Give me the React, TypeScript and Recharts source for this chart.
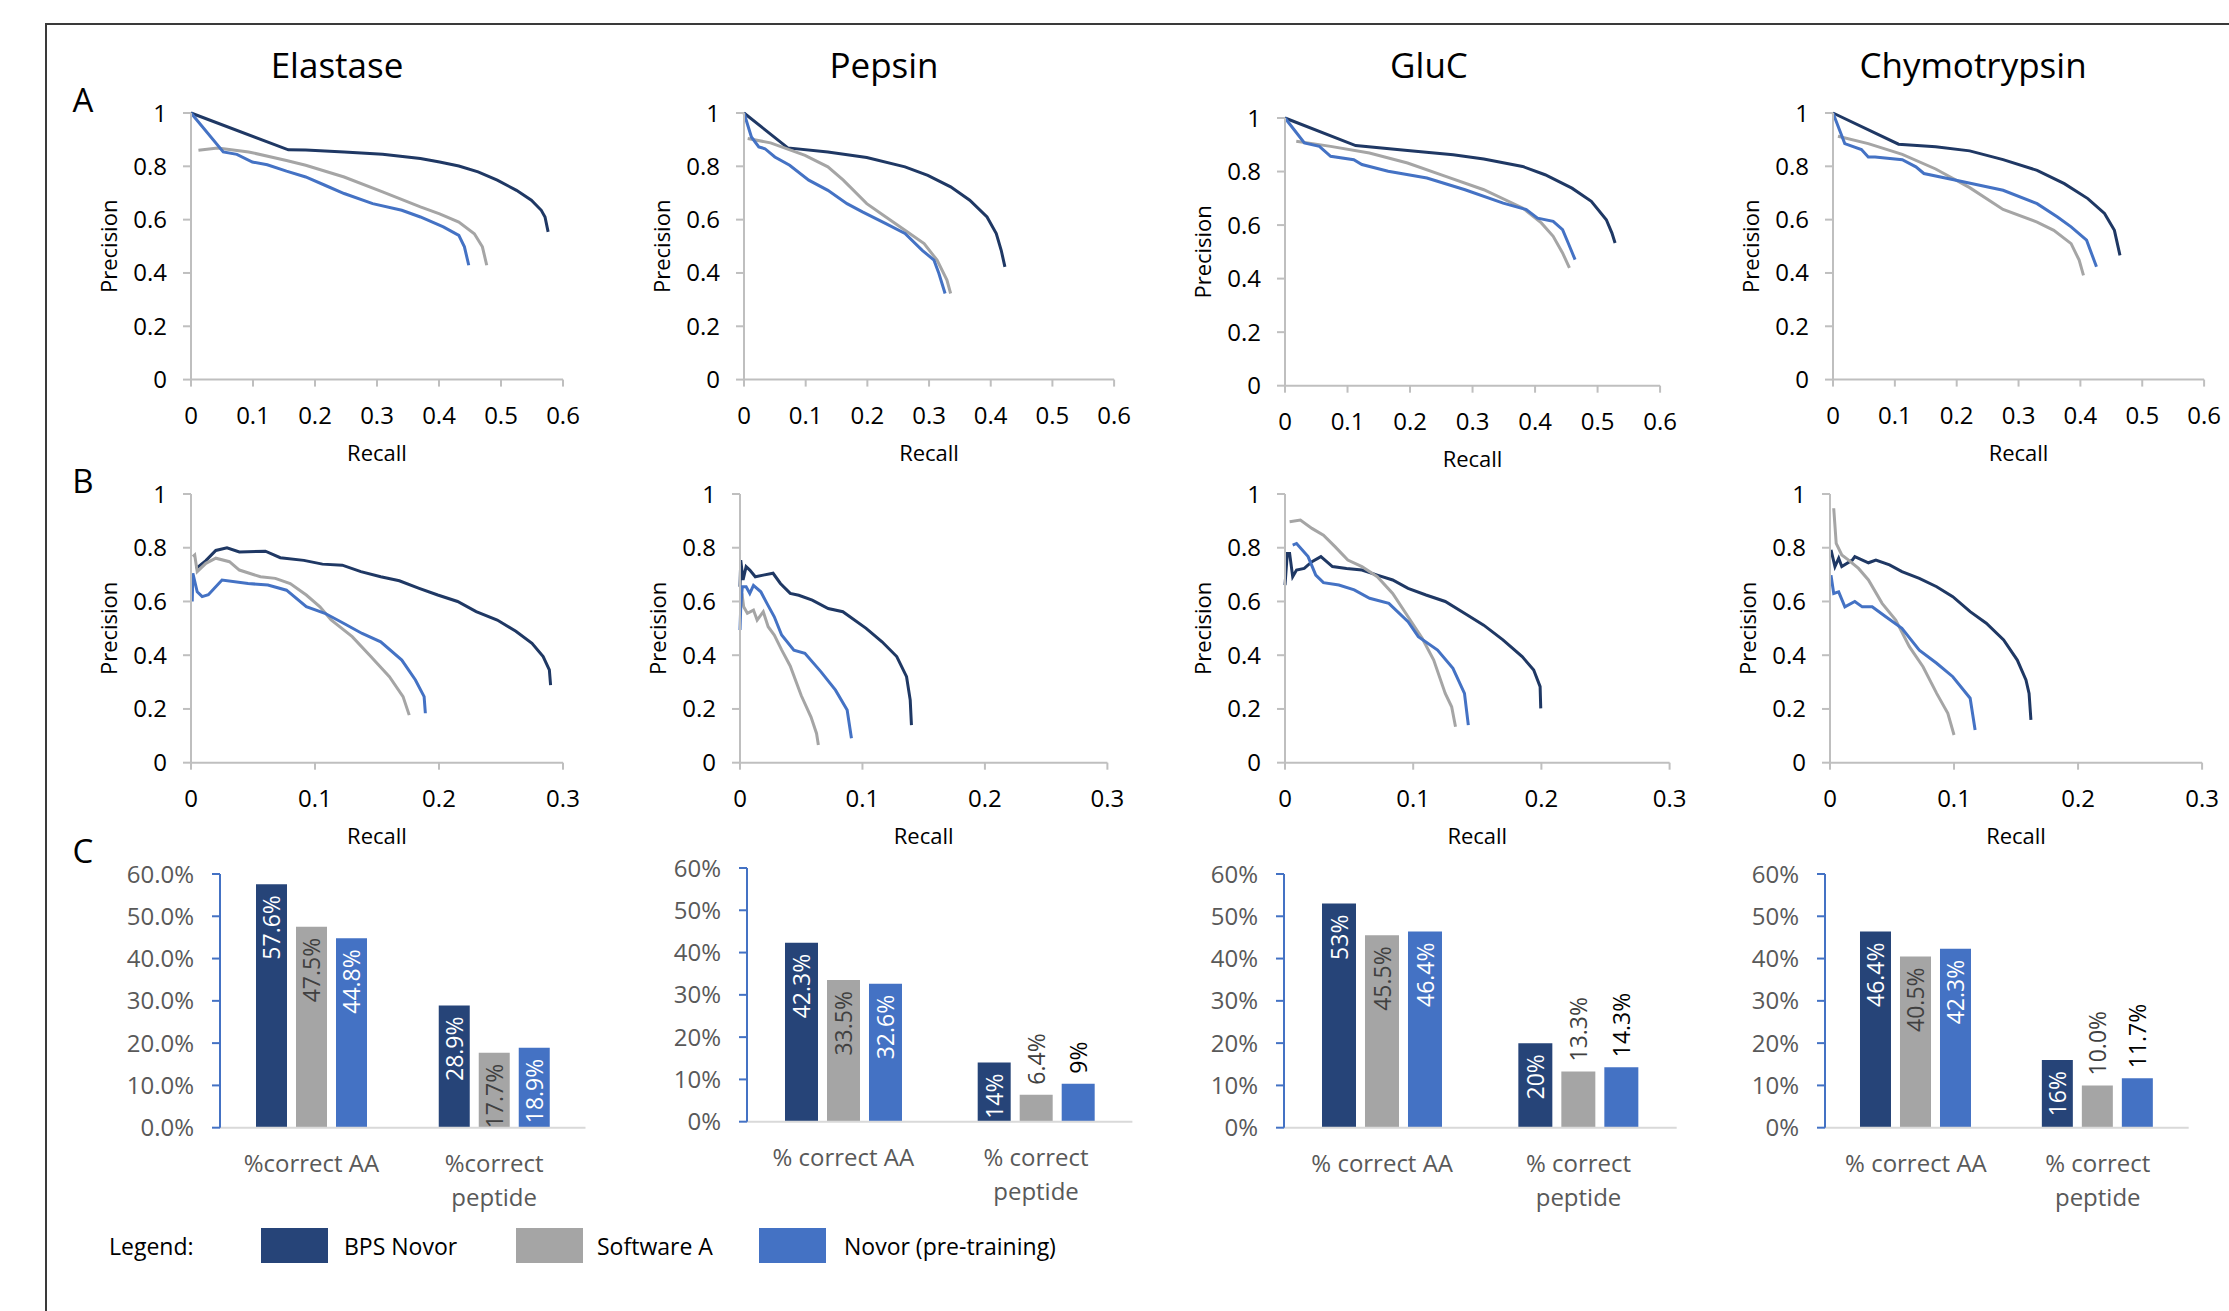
import React from 'react';
import { LineChart, Line, XAxis, YAxis, BarChart, Bar, LabelList } from 'recharts';

const FONT = "'Open Sans', 'Noto Sans', Arial, sans-serif";
const NAVY_LINE = '#1F3864';
const NAVY_BAR = '#264478';
const GRAY = '#A5A5A5';
const BLUE = '#4472C4';
const AXIS_GRAY = '#BFBFBF';

type Pt = [number, number];

// ---- panel names / legend ----
const enzymes = ['Elastase', 'Pepsin', 'GluC', 'Chymotrypsin'];
const seriesNames = ['BPS Novor', 'Software A', 'Novor (pre-training)'];

// ---- axis ticks ----
const xTicksA = [0, 0.1, 0.2, 0.3, 0.4, 0.5, 0.6];
const xTicksB = [0, 0.1, 0.2, 0.3];
const yTicksPR = [0, 0.2, 0.4, 0.6, 0.8, 1];
const pctTicks = [0, 10, 20, 30, 40, 50, 60];
const pctTickLabelsFixed = ['0.0%', '10.0%', '20.0%', '30.0%', '40.0%', '50.0%', '60.0%'];
const pctTickLabels = ['0%', '10%', '20%', '30%', '40%', '50%', '60%'];

// ---- A: precision / recall, [recall, precision] ----
const elastaseA_bps: Pt[] = [[0, 1], [0.157, 0.862], [0.185, 0.861], [0.247, 0.854], [0.309, 0.845], [0.37, 0.829], [0.401, 0.816], [0.432, 0.801], [0.463, 0.779], [0.494, 0.748], [0.525, 0.71], [0.549, 0.673], [0.565, 0.635], [0.571, 0.61], [0.576, 0.554]];
const elastaseA_softA: Pt[] = [[0.012, 0.86], [0.043, 0.869], [0.093, 0.854], [0.154, 0.822], [0.185, 0.804], [0.247, 0.76], [0.309, 0.704], [0.37, 0.648], [0.401, 0.622], [0.432, 0.591], [0.457, 0.547], [0.47, 0.498], [0.477, 0.429]];
const elastaseA_novor: Pt[] = [[0, 1], [0.052, 0.854], [0.074, 0.845], [0.099, 0.816], [0.123, 0.806], [0.154, 0.782], [0.185, 0.76], [0.216, 0.729], [0.247, 0.698], [0.293, 0.66], [0.34, 0.635], [0.37, 0.61], [0.407, 0.573], [0.432, 0.541], [0.441, 0.498], [0.448, 0.429]];

const pepsinA_bps: Pt[] = [[0, 1], [0.071, 0.869], [0.136, 0.854], [0.199, 0.833], [0.261, 0.798], [0.298, 0.766], [0.335, 0.723], [0.366, 0.673], [0.394, 0.61], [0.409, 0.548], [0.417, 0.485], [0.423, 0.423]];
const pepsinA_softA: Pt[] = [[0.006, 0.904], [0.043, 0.888], [0.099, 0.841], [0.136, 0.798], [0.161, 0.748], [0.199, 0.66], [0.23, 0.61], [0.261, 0.56], [0.292, 0.51], [0.313, 0.448], [0.329, 0.373], [0.335, 0.323]];
const pepsinA_novor: Pt[] = [[0, 1], [0.012, 0.91], [0.024, 0.873], [0.034, 0.866], [0.05, 0.835], [0.074, 0.804], [0.105, 0.748], [0.136, 0.71], [0.167, 0.66], [0.192, 0.629], [0.23, 0.585], [0.261, 0.548], [0.289, 0.485], [0.308, 0.448], [0.316, 0.398], [0.326, 0.323]];

const gluCA_bps: Pt[] = [[0, 1], [0.113, 0.897], [0.196, 0.879], [0.269, 0.863], [0.318, 0.847], [0.38, 0.819], [0.416, 0.788], [0.459, 0.738], [0.49, 0.689], [0.514, 0.62], [0.523, 0.57], [0.528, 0.533]];
const gluCA_softA: Pt[] = [[0.018, 0.913], [0.073, 0.894], [0.135, 0.869], [0.196, 0.832], [0.257, 0.782], [0.318, 0.732], [0.38, 0.664], [0.41, 0.608], [0.429, 0.558], [0.444, 0.496], [0.455, 0.44]];
const gluCA_novor: Pt[] = [[0, 1], [0.031, 0.907], [0.055, 0.894], [0.073, 0.857], [0.11, 0.844], [0.123, 0.826], [0.165, 0.801], [0.227, 0.776], [0.288, 0.732], [0.349, 0.682], [0.386, 0.658], [0.404, 0.626], [0.429, 0.614], [0.444, 0.583], [0.453, 0.533], [0.464, 0.471]];

const chymoA_bps: Pt[] = [[0, 1], [0.106, 0.883], [0.166, 0.873], [0.221, 0.858], [0.275, 0.825], [0.33, 0.785], [0.374, 0.735], [0.412, 0.679], [0.439, 0.623], [0.455, 0.56], [0.464, 0.466]];
const chymoA_softA: Pt[] = [[0.008, 0.913], [0.057, 0.885], [0.112, 0.845], [0.166, 0.79], [0.221, 0.72], [0.275, 0.638], [0.33, 0.591], [0.357, 0.56], [0.385, 0.51], [0.398, 0.448], [0.405, 0.391]];
const chymoA_novor: Pt[] = [[0, 1], [0.019, 0.885], [0.046, 0.863], [0.057, 0.835], [0.068, 0.835], [0.112, 0.825], [0.134, 0.798], [0.147, 0.773], [0.199, 0.748], [0.275, 0.71], [0.33, 0.66], [0.363, 0.61], [0.385, 0.573], [0.41, 0.523], [0.418, 0.473], [0.426, 0.423]];

// ---- B: precision / recall ----
const elastaseB_bps: Pt[] = [[0.004, 0.722], [0.012, 0.752], [0.02, 0.79], [0.029, 0.8], [0.039, 0.784], [0.06, 0.787], [0.072, 0.763], [0.091, 0.753], [0.106, 0.739], [0.122, 0.735], [0.137, 0.711], [0.153, 0.692], [0.168, 0.677], [0.184, 0.649], [0.199, 0.624], [0.215, 0.6], [0.23, 0.562], [0.247, 0.531], [0.262, 0.489], [0.275, 0.444], [0.284, 0.395], [0.289, 0.345], [0.29, 0.289]];
const elastaseB_softA: Pt[] = [[0.0015, 0.767], [0.003, 0.773], [0.005, 0.711], [0.012, 0.742], [0.02, 0.761], [0.031, 0.748], [0.039, 0.717], [0.056, 0.692], [0.068, 0.686], [0.08, 0.667], [0.093, 0.624], [0.104, 0.58], [0.113, 0.531], [0.13, 0.469], [0.145, 0.395], [0.16, 0.32], [0.171, 0.246], [0.176, 0.177]];
const elastaseB_novor: Pt[] = [[0.001, 0.6], [0.0015, 0.705], [0.005, 0.636], [0.009, 0.618], [0.014, 0.625], [0.025, 0.68], [0.046, 0.667], [0.062, 0.661], [0.077, 0.642], [0.093, 0.581], [0.108, 0.556], [0.123, 0.519], [0.138, 0.481], [0.153, 0.45], [0.17, 0.382], [0.181, 0.308], [0.188, 0.246], [0.189, 0.184]];

const pepsinB_bps: Pt[] = [[0, 0.655], [0.0006, 0.754], [0.0025, 0.68], [0.005, 0.73], [0.008, 0.717], [0.0125, 0.692], [0.019, 0.698], [0.027, 0.705], [0.033, 0.667], [0.041, 0.63], [0.048, 0.623], [0.059, 0.605], [0.072, 0.574], [0.084, 0.562], [0.103, 0.5], [0.116, 0.45], [0.128, 0.395], [0.136, 0.32], [0.139, 0.233], [0.14, 0.14]];
const pepsinB_softA: Pt[] = [[0.0016, 0.63], [0.003, 0.58], [0.006, 0.556], [0.011, 0.568], [0.014, 0.531], [0.019, 0.562], [0.023, 0.506], [0.028, 0.475], [0.034, 0.42], [0.041, 0.36], [0.05, 0.25], [0.058, 0.17], [0.0625, 0.109], [0.064, 0.066]];
const pepsinB_novor: Pt[] = [[0, 0.494], [0.0006, 0.58], [0.0019, 0.655], [0.005, 0.655], [0.008, 0.63], [0.011, 0.66], [0.017, 0.636], [0.022, 0.593], [0.028, 0.543], [0.034, 0.475], [0.044, 0.419], [0.053, 0.407], [0.066, 0.339], [0.078, 0.27], [0.0875, 0.196], [0.091, 0.091]];

const gluCB_bps: Pt[] = [[0, 0.661], [0.0018, 0.779], [0.0036, 0.779], [0.006, 0.692], [0.009, 0.717], [0.015, 0.723], [0.021, 0.748], [0.028, 0.767], [0.037, 0.73], [0.048, 0.723], [0.06, 0.717], [0.072, 0.698], [0.084, 0.68], [0.096, 0.649], [0.11, 0.624], [0.125, 0.6], [0.14, 0.556], [0.155, 0.512], [0.17, 0.457], [0.185, 0.395], [0.194, 0.345], [0.199, 0.283], [0.1995, 0.202]];
const gluCB_softA: Pt[] = [[0.0036, 0.897], [0.012, 0.903], [0.021, 0.872], [0.03, 0.847], [0.039, 0.804], [0.049, 0.754], [0.06, 0.73], [0.072, 0.692], [0.084, 0.63], [0.096, 0.543], [0.107, 0.463], [0.116, 0.382], [0.125, 0.258], [0.13, 0.208], [0.133, 0.134]];
const gluCB_novor: Pt[] = [[0.006, 0.81], [0.009, 0.816], [0.018, 0.767], [0.024, 0.698], [0.03, 0.67], [0.042, 0.661], [0.054, 0.643], [0.066, 0.612], [0.081, 0.593], [0.096, 0.525], [0.104, 0.469], [0.119, 0.419], [0.131, 0.351], [0.14, 0.258], [0.143, 0.14]];

const chymoB_bps: Pt[] = [[0.0008, 0.792], [0.004, 0.73], [0.007, 0.761], [0.0095, 0.73], [0.018, 0.754], [0.02, 0.767], [0.031, 0.744], [0.037, 0.754], [0.048, 0.736], [0.058, 0.711], [0.072, 0.686], [0.086, 0.655], [0.099, 0.618], [0.113, 0.562], [0.126, 0.519], [0.14, 0.457], [0.151, 0.382], [0.158, 0.308], [0.1605, 0.258], [0.162, 0.159]];
const chymoB_softA: Pt[] = [[0.003, 0.947], [0.005, 0.816], [0.0095, 0.773], [0.015, 0.754], [0.023, 0.723], [0.031, 0.68], [0.042, 0.593], [0.053, 0.531], [0.064, 0.432], [0.075, 0.357], [0.086, 0.258], [0.095, 0.184], [0.1, 0.103]];
const chymoB_novor: Pt[] = [[0.0008, 0.698], [0.003, 0.63], [0.007, 0.636], [0.012, 0.58], [0.02, 0.6], [0.026, 0.58], [0.034, 0.58], [0.045, 0.543], [0.058, 0.5], [0.072, 0.419], [0.086, 0.37], [0.099, 0.32], [0.113, 0.24], [0.117, 0.122]];

// ---- C: accuracy bars (%) ----
const categoriesElastase = ['%correct AA', '%correct peptide'];
const categoriesOther = ['% correct AA', '% correct peptide'];

const elastaseBps = [57.6, 28.9];
const elastaseSoftA = [47.5, 17.7];
const elastaseNovor = [44.8, 18.9];
const elastaseLabels = [['57.6%', '28.9%'], ['47.5%', '17.7%'], ['44.8%', '18.9%']];

const pepsinBps = [42.3, 14];
const pepsinSoftA = [33.5, 6.4];
const pepsinNovor = [32.6, 9];
const pepsinLabels = [['42.3%', '14%'], ['33.5%', '6.4%'], ['32.6%', '9%']];

const gluCBps = [53, 20];
const gluCSoftA = [45.5, 13.3];
const gluCNovor = [46.4, 14.3];
const gluCLabels = [['53%', '20%'], ['45.5%', '13.3%'], ['46.4%', '14.3%']];

const chymoBps = [46.4, 16];
const chymoSoftA = [40.5, 10.0];
const chymoNovor = [42.3, 11.7];
const chymoLabels = [['46.4%', '16%'], ['40.5%', '10.0%'], ['42.3%', '11.7%']];

// ---- layout (page px): plot rects [left, top, right, bottom] ----
const TITLE_X = [337, 884, 1429, 1973];
const RECT_A = [[191.3, 112.7, 563.3, 379.3], [743.7, 112.7, 1113.8, 379.3], [1285.4, 118.3, 1660.5, 386], [1833.3, 112.7, 2204.4, 379.3]];
const RECT_B = [[191.3, 494, 563.3, 762.7], [739.9, 494, 1107.3, 762.7], [1285.4, 494, 1670, 762.7], [1829.9, 494, 2202, 762.7]];
const RECT_C = [[220, 874, 585.5, 1127.7], [746.6, 868, 1132, 1121.7], [1284, 874, 1676.7, 1127.7], [1824.8, 874, 2188.5, 1127.7]];
const BAR_SIZE = [31, 33, 34, 31];

const toRows = (pts: Pt[]) => pts.map(([x, y]) => ({ x, y }));

function PRChart({ rect, xTicks, series }: { rect: number[]; xTicks: number[]; series: Pt[][] }) {
  const [l, t, r, b] = rect;
  const padL = 164, padT = 20, padR = 30, padB = 148;
  const colors = [NAVY_LINE, GRAY, BLUE];
  return (
    <div style={{ position: 'absolute', left: l - padL, top: t - padT }}>
      <LineChart width={r - l + padL + padR} height={b - t + padT + padB} margin={{ top: padT, right: padR, bottom: 0, left: 0 }}>
        <XAxis
          type="number"
          dataKey="x"
          domain={[0, xTicks[xTicks.length - 1]]}
          ticks={xTicks}
          interval={0}
          height={padB}
          axisLine={{ stroke: AXIS_GRAY, strokeWidth: 2 }}
          tickLine={{ stroke: AXIS_GRAY, strokeWidth: 2 }}
          tickSize={7}
          tickMargin={20}
          tick={{ fill: '#000', fontSize: 24, fontFamily: FONT }}
          label={{ value: 'Recall', position: 'center', fill: '#000', fontSize: 22, fontFamily: FONT }}
        />
        <YAxis
          type="number"
          dataKey="y"
          domain={[0, 1]}
          ticks={yTicksPR}
          interval={0}
          width={padL}
          axisLine={{ stroke: AXIS_GRAY, strokeWidth: 2 }}
          tickLine={{ stroke: AXIS_GRAY, strokeWidth: 2 }}
          tickSize={8}
          tickMargin={16}
          tick={{ fill: '#000', fontSize: 24, fontFamily: FONT }}
          label={{ value: 'Precision', angle: -90, position: 'center', fill: '#000', fontSize: 22, fontFamily: FONT }}
        />
        {series.map((s, i) => (
          <Line
            key={seriesNames[i]}
            name={seriesNames[i]}
            data={toRows(s)}
            dataKey="y"
            type="linear"
            stroke={colors[i]}
            strokeWidth={3}
            dot={false}
            activeDot={false}
            isAnimationActive={false}
          />
        ))}
      </LineChart>
    </div>
  );
}

const CategoryTick = (props: any) => {
  const { x, y, payload } = props;
  const text: string = payload.value;
  const words = text.split(' ');
  const lines = text.length > 12 ? [words.slice(0, -1).join(' '), words[words.length - 1]] : [text];
  return (
    <text x={x} y={y} textAnchor="middle" fill="#595959" fontSize={24} fontFamily={FONT}>
      {lines.map((ln, i) => (
        <tspan key={i} x={x} dy={i === 0 ? 44 : 34}>{ln}</tspan>
      ))}
    </text>
  );
};

const makeBarLabel = (texts: string[], kind: number, outside: boolean[]) => (props: any) => {
  const x = Number(props.x), y = Number(props.y), width = Number(props.width);
  const idx = props.index;
  const cx = x + width / 2;
  const out = outside[idx];
  const color = kind === 1 ? '#404040' : out ? '#000' : '#fff';
  const ty = out ? y - 10 : y + 11;
  return (
    <text
      x={cx}
      y={ty}
      transform={`rotate(-90 ${cx} ${ty})`}
      textAnchor={out ? 'start' : 'end'}
      dominantBaseline="central"
      fill={color}
      fontSize={23}
      fontFamily={FONT}
    >
      {texts[idx]}
    </text>
  );
};

function AccuracyChart({ rect, categories, values, labels, tickLabels, barSize, peptideOutside }: {
  rect: number[]; categories: string[]; values: number[][]; labels: string[][]; tickLabels: string[]; barSize: number; peptideOutside: boolean;
}) {
  const [l, t, r, b] = rect;
  const padL = 120, padT = 30, padR = 20, padB = 110;
  const data = categories.map((c, i) => ({ category: c, bps: values[0][i], softA: values[1][i], novor: values[2][i] }));
  const keys = ['bps', 'softA', 'novor'];
  const fills = [NAVY_BAR, GRAY, BLUE];
  return (
    <div style={{ position: 'absolute', left: l - padL, top: t - padT }}>
      <BarChart
        width={r - l + padL + padR}
        height={b - t + padT + padB}
        data={data}
        margin={{ top: padT, right: padR, bottom: 0, left: 0 }}
        barGap={9}
        barCategoryGap={0}
      >
        <XAxis
          dataKey="category"
          height={padB}
          interval={0}
          axisLine={{ stroke: '#D9D9D9', strokeWidth: 2 }}
          tickLine={false}
          tickSize={0}
          tickMargin={0}
          tick={<CategoryTick />}
        />
        <YAxis
          type="number"
          domain={[0, 60]}
          ticks={pctTicks}
          interval={0}
          width={padL}
          axisLine={{ stroke: BLUE, strokeWidth: 2 }}
          tickLine={{ stroke: BLUE, strokeWidth: 2 }}
          tickSize={8}
          tickMargin={18}
          tick={{ fill: '#595959', fontSize: 24, fontFamily: FONT }}
          tickFormatter={(v: number) => tickLabels[pctTicks.indexOf(v)]}
        />
        {keys.map((k, i) => (
          <Bar key={k} dataKey={k} name={seriesNames[i]} fill={fills[i]} barSize={barSize} isAnimationActive={false}>
            <LabelList dataKey={k} content={makeBarLabel(labels[i], i, i === 0 ? [false, false] : [false, peptideOutside])} />
          </Bar>
        ))}
      </BarChart>
    </div>
  );
}

const lettersStyle: React.CSSProperties = { position: 'absolute', fontSize: 33, lineHeight: 1, transform: 'translate(-50%, -50%)', color: '#000' };

export default function App() {
  const seriesA = [
    [elastaseA_bps, elastaseA_softA, elastaseA_novor],
    [pepsinA_bps, pepsinA_softA, pepsinA_novor],
    [gluCA_bps, gluCA_softA, gluCA_novor],
    [chymoA_bps, chymoA_softA, chymoA_novor],
  ];
  const seriesB = [
    [elastaseB_bps, elastaseB_softA, elastaseB_novor],
    [pepsinB_bps, pepsinB_softA, pepsinB_novor],
    [gluCB_bps, gluCB_softA, gluCB_novor],
    [chymoB_bps, chymoB_softA, chymoB_novor],
  ];
  const barValues = [
    [elastaseBps, elastaseSoftA, elastaseNovor],
    [pepsinBps, pepsinSoftA, pepsinNovor],
    [gluCBps, gluCSoftA, gluCNovor],
    [chymoBps, chymoSoftA, chymoNovor],
  ];
  const barLabels = [elastaseLabels, pepsinLabels, gluCLabels, chymoLabels];
  const legendSwatch = [261, 516, 759];
  const legendText = [344, 597, 844];
  const legendFill = [NAVY_BAR, GRAY, BLUE];

  return (
    <div style={{ position: 'absolute', left: 0, top: 0, width: 2229, height: 1311, background: '#fff', overflow: 'hidden', fontFamily: FONT }}>
      <div style={{ position: 'absolute', left: 45, top: 23, width: 2300, height: 1400, borderLeft: '2.5px solid #3a3a3a', borderTop: '2.5px solid #3a3a3a' }} />

      {enzymes.map((name, i) => (
        <div key={name} style={{ position: 'absolute', left: TITLE_X[i], top: 64, transform: 'translate(-50%, -50%)', fontSize: 35, lineHeight: 1, whiteSpace: 'nowrap', color: '#000' }}>
          {name}
        </div>
      ))}
      <div style={{ ...lettersStyle, left: 83, top: 99 }}>A</div>
      <div style={{ ...lettersStyle, left: 83, top: 480 }}>B</div>
      <div style={{ ...lettersStyle, left: 83, top: 850 }}>C</div>

      {seriesA.map((s, i) => (
        <PRChart key={`a${i}`} rect={RECT_A[i]} xTicks={xTicksA} series={s} />
      ))}
      {seriesB.map((s, i) => (
        <PRChart key={`b${i}`} rect={RECT_B[i]} xTicks={xTicksB} series={s} />
      ))}
      {barValues.map((v, i) => (
        <AccuracyChart
          key={`c${i}`}
          rect={RECT_C[i]}
          categories={i === 0 ? categoriesElastase : categoriesOther}
          values={v}
          labels={barLabels[i]}
          tickLabels={i === 0 ? pctTickLabelsFixed : pctTickLabels}
          barSize={BAR_SIZE[i]}
          peptideOutside={i !== 0}
        />
      ))}

      <div style={{ position: 'absolute', left: 109, top: 1246, transform: 'translateY(-50%)', fontSize: 23, lineHeight: 1, color: '#000' }}>Legend:</div>
      {seriesNames.map((n, i) => (
        <React.Fragment key={n}>
          <div style={{ position: 'absolute', left: legendSwatch[i], top: 1228, width: 67, height: 35, background: legendFill[i] }} />
          <div style={{ position: 'absolute', left: legendText[i], top: 1246, transform: 'translateY(-50%)', fontSize: 23, lineHeight: 1, whiteSpace: 'nowrap', color: '#000' }}>{n}</div>
        </React.Fragment>
      ))}
    </div>
  );
}
